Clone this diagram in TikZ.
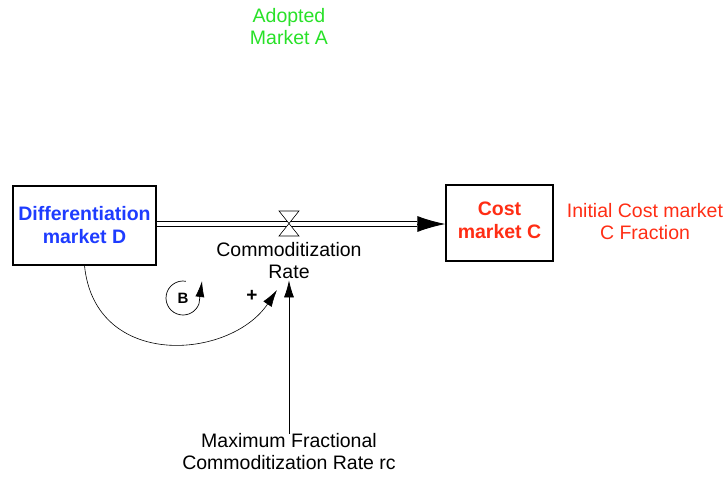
\documentclass[tikz,border=0pt]{standalone}
\usepackage{fontspec}
\setmainfont{Liberation Sans}
\usetikzlibrary{arrows.meta,calc}
\definecolor{vblue}{RGB}{30,60,255}
\definecolor{vred}{RGB}{255,45,20}
\definecolor{vgreen}{RGB}{40,225,40}
\tikzset{
  stock/.style={draw, line width=1.2pt, align=center, inner sep=0pt, font=\fontsize{19.5}{23}\selectfont\bfseries},
  lbl/.style={align=center, inner sep=0pt, font=\fontsize{19.5}{22}\selectfont},
  pipe/.style={draw, double, double distance=3.6pt, line width=0.9pt},
  link/.style={line width=0.7pt, -{Latex[length=17pt,width=10pt]}},
  valvetri/.style={draw, fill=white, line width=0.6pt},
}
\begin{document}
\begin{tikzpicture}[x=1pt,y=-1pt]
\useasboundingbox (0,0) rectangle (728,477);
\node[stock, text=vblue, minimum width=143pt, minimum height=79pt] (D) at (84.5,225.5) {Differentiation\\market D};
\node[stock, minimum width=107pt, minimum height=76pt] (C) at (499.5,223) {};
\node[stock, draw=none, text=vred] (Ctext) at (499.5,220.5) {Cost\\market C};
\node[lbl, text=vred] (init) at (645,222) {Initial Cost market\\C Fraction};
\node[lbl, text=vgreen] (adopt) at (289,27) {Adopted\\Market A};
\node[lbl] (rate) at (289,261) {Commoditization\\Rate};
\node[lbl] (maxr) at (289,452) {Maximum Fractional\\Commoditization Rate rc};
% pipe
\coordinate (pS) at (D.east |- 0,224);
\coordinate (pE) at (C.west |- 0,224);
\coordinate (pA) at ($(pE)+(-28,0)$);
\draw[pipe] (pS) -- (pA);
\draw[line width=0.9pt, -{Latex[length=28pt,width=16pt]}] (pA) -- (pE);
% valve
\coordinate (valve) at (289,223.5);
\draw[valvetri] (279,211) -- (299,211) -- (valve) -- cycle;
\draw[valvetri] (valve) -- (279,236) -- (299,236) -- cycle;
% links
\coordinate (linkEnd) at (277,290);
\draw[link, line width=0.6pt] (D.south) .. controls (95,370) and (230,360) .. (linkEnd);
\draw[link] (maxr.north) -- ($(rate.south)+(0,1)$);
\node[font=\fontsize{19}{19}\selectfont\bfseries, inner sep=0pt] (plus) at (252,296) {+};
% loop
\node[font=\fontsize{15}{15}\selectfont\bfseries, inner sep=0pt] (B) at (183,298) {B};
\draw[line width=0.7pt, -{Latex[length=16pt,width=9pt]}] ($(B)+(2.95,-16.74)$) arc[start angle=-80, end angle=-340, radius=17] -- (202,281);
\end{tikzpicture}
\end{document}
